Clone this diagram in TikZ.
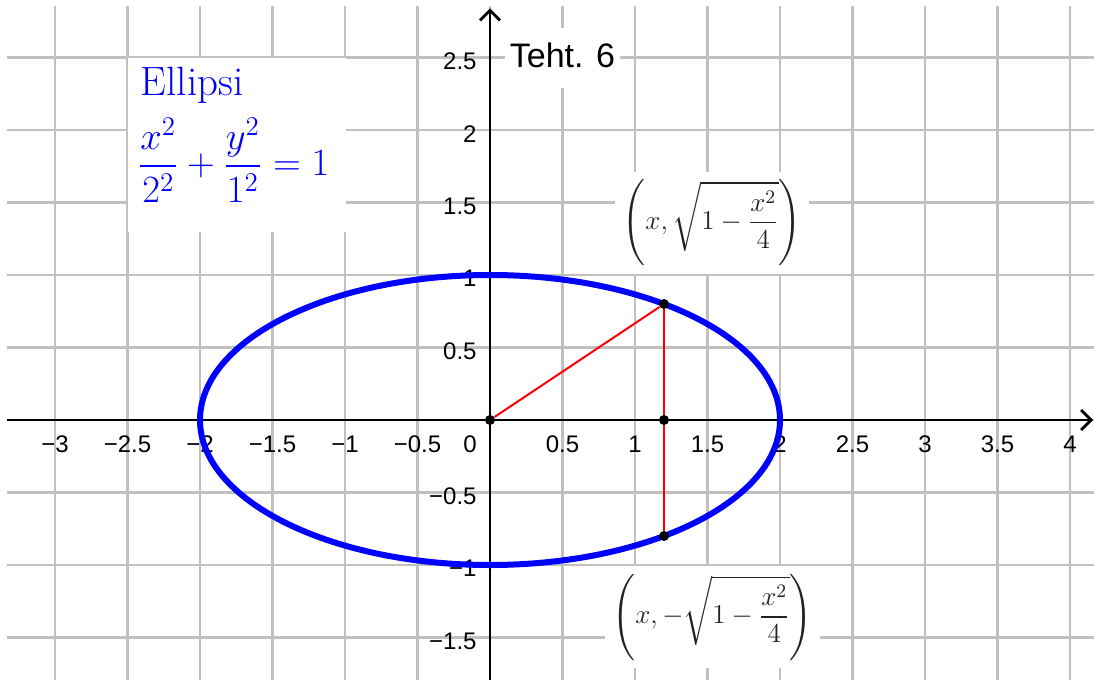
\RequirePackage{fix-cm}
\documentclass[tikz,border=0pt]{standalone}
\usepackage{amsmath}
\usepackage{fontspec}
\newfontfamily\ggbfont{Liberation Sans}
\usetikzlibrary{arrows.meta}
\definecolor{GGBGrid}{HTML}{C0C0C0}
\definecolor{GGBBlue}{HTML}{0000FF}
\definecolor{GGBRed}{HTML}{FF0000}
\definecolor{GGBLabel}{HTML}{222222}

\begin{document}
\begin{tikzpicture}[
    x=72.5pt, y=72.5pt,
    gridline/.style={GGBGrid, line width=1.2pt},
    axis/.style={-{Straight Barb[length=5pt, width=10pt]}, line width=1.4pt, black},
    curve/.style={GGBBlue, line width=3pt},
    seg/.style={GGBRed, line width=1pt},
    dot/.style={circle, fill=black, inner sep=0pt, minimum size=5pt},
    xnum/.style={anchor=base, inner sep=0pt, font=\ggbfont\fontsize{12}{14}\selectfont},
    ynum/.style={anchor=east, inner sep=0pt, font=\ggbfont\fontsize{12}{14}\selectfont},
    whitebox/.style={fill=white, inner sep=0pt},
    ptlabel/.style={whitebox, minimum height=51pt, text=GGBLabel, font=\fontsize{13.6}{16}\selectfont}
  ]
  \useasboundingbox (-3.3793,-1.7931) rectangle (4.1655,2.8966);
  % grid
  \foreach \y in {-1.5,-1,...,2.5}
    \draw[gridline] (-3.331,\y) -- (4.1655,\y);
  \foreach \x in {-3,-2.5,...,4}
    \draw[gridline] (\x,-1.7931) -- (\x,2.855);
  % text backgrounds
  \node[whitebox, anchor=north west, minimum width=109pt, minimum height=87.2pt] (ellbox) at (-2.5,2.5) {};
  \node[whitebox, minimum width=57.5pt, minimum height=30pt, text depth=3pt, font=\ggbfont\fontsize{17}{20}\selectfont] (teht) at (0.5,2.497) {Teht. 6};
  \node[ptlabel, minimum width=97pt] (Plab) at (1.531,1.36) {$\displaystyle\left(x, \sqrt{1-\frac{x^2}{4}}\right)$};
  \node[ptlabel, minimum width=107.5pt] (Rlab) at (1.534,-1.359) {$\displaystyle\left(x, -\sqrt{1-\frac{x^2}{4}}\right)$};
  % axes
  \coordinate (xL) at (-3.331,0);
  \coordinate (xR) at (4.159,0);
  \coordinate (yB) at (0,-1.7931);
  \coordinate (yT) at (0,2.839);
  \draw[axis] (xL) -- (xR);
  \draw[axis] (yB) -- (yT);
  \foreach \x/\t [count=\i] in {-3/−3,-2.5/−2.5,-2/−2,-1.5/−1.5,-1/−1,-0.5/−0.5,0.5/0.5,1/1,1.5/1.5,2/2,2.5/2.5,3/3,3.5/3.5,4/4}
    \node[xnum] (xl\i) at (\x,-0.2207) {\t};
  \node[xnum] (xl0) at (-0.138,-0.2207) {0};
  \foreach \y/\t [count=\i] in {-1.5/−1.5,-1/−1,-0.5/−0.5,0.5/0.5,1/1,1.5/1.5,2/2,2.5/2.5}
    \node[ynum] (yl\i) at (-0.0897,\y-0.0255) {\t};
  % ellipse and points
  \draw[curve] (0,0) ellipse [x radius=2, y radius=1];
  \node[dot] (O) at (0,0) {};
  \node[dot] (P) at (1.2,0.8) {};
  \node[dot] (Q) at (1.2,0) {};
  \node[dot] (R) at (1.2,-0.8) {};
  \draw[seg] (O) -- (P);
  \draw[seg] (P) -- (Q);
  \draw[seg] (Q) -- (R);
  % title text
  \node[GGBBlue, anchor=base west, inner sep=0pt, font=\fontsize{20.5}{24}\selectfont] (elltitle) at (-2.41,2.237) {Ellipsi};
  \node[GGBBlue, anchor=base west, inner sep=0pt, font=\fontsize{19.3}{23}\selectfont] (elleq) at (-2.43,1.685) {$\dfrac{x^2}{2^2}+\dfrac{y^2}{1^2}=1$};
\end{tikzpicture}
\end{document}
